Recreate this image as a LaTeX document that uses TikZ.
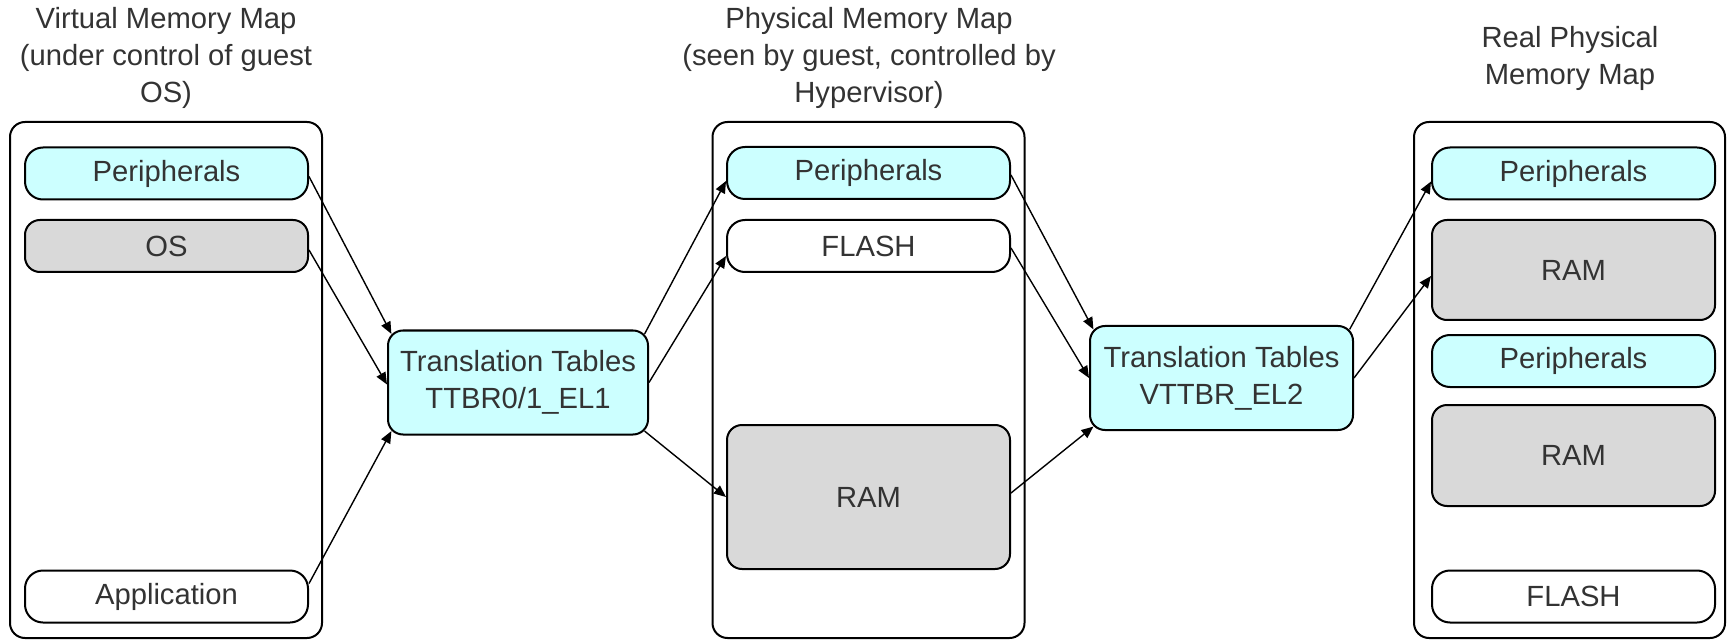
\documentclass[tikz,border=0pt]{standalone}
\usepackage{fontspec}
\setmainfont{Liberation Sans}
\usepackage{xcolor}
\usetikzlibrary{arrows.meta}

\definecolor{periphcyan}{HTML}{CCFFFF}
\definecolor{ramgray}{HTML}{D9D9D9}

\begin{document}
\begin{tikzpicture}[x=0.5pt, y=-0.5pt, line width=1pt,
    font=\fontsize{14.6}{18.5}\selectfont, text=black!80,
    memmap/.style={draw, rounded corners=7.5pt, minimum width=156pt, minimum height=258pt, inner sep=0pt},
    region/.style={draw, fill=white, rounded corners=9pt, minimum width=141.5pt, minimum height=26pt, inner sep=0pt},
    periph/.style={region, fill=periphcyan},
    ram/.style={region, fill=ramgray, rounded corners=7.5pt},
    xlat/.style={draw, fill=periphcyan, rounded corners=7.5pt, minimum width=130pt, minimum height=52pt, align=center, inner sep=0pt},
    title/.style={align=center},
    link/.style={line width=0.7pt, -{Triangle[length=6pt,width=5pt]}}]
  \useasboundingbox (0,0) rectangle (1732,641);
  % virtual memory map (guest OS)
  \node[title] (vtitle) at (166,58) {Virtual Memory Map\\(under control of guest\\OS)};
  \node[memmap] (vmap) at (166,380) {};
  \node[periph] (vperiph) at (166.5,173.5) {Peripherals};
  \node[ram] (vos) at (166.5,246) {OS};
  \node[region] (vapp) at (166.5,596.5) {Application};
  % stage 1 tables
  \node[xlat] (tt1) at (518,382.5) {Translation Tables\\TTBR0/1\_EL1};
  % physical memory map (seen by guest)
  \node[title] (ptitle) at (869,58) {Physical Memory Map\\(seen by guest, controlled by\\Hypervisor)};
  \node[memmap] (pmap) at (868.5,380) {};
  \node[periph] (pperiph) at (868.5,173) {Peripherals};
  \node[region] (pflash) at (868.5,246) {FLASH};
  \node[ram, minimum height=72pt] (pram) at (868.5,497) {RAM};
  % stage 2 tables
  \node[xlat, minimum width=131.5pt] (tt2) at (1221.5,378) {Translation Tables\\VTTBR\_EL2};
  % real physical memory map
  \node[title] (rtitle) at (1570,58) {Real Physical\\Memory Map};
  \node[memmap, minimum width=155.5pt] (rmap) at (1569.5,380) {};
  \node[periph] (rperiph1) at (1573.5,173.5) {Peripherals};
  \node[ram, minimum height=50pt] (rram1) at (1573.5,270) {RAM};
  \node[periph] (rperiph2) at (1573.5,361) {Peripherals};
  \node[ram, minimum height=50.5pt] (rram2) at (1573.5,455.5) {RAM};
  \node[region] (rflash) at (1573.5,596.5) {FLASH};
  % points on the rounded corners of the tables
  \foreach \t in {tt1, tt2} {
    \coordinate (\t nw) at ([shift={(2.2pt,-2.2pt)}]\t.north west);
    \coordinate (\t ne) at ([shift={(-2.2pt,-2.2pt)}]\t.north east);
    \coordinate (\t sw) at ([shift={(2.2pt,2.2pt)}]\t.south west);
    \coordinate (\t se) at ([shift={(-2.2pt,2.2pt)}]\t.south east);
  }
  % mappings
  \foreach \a/\r/\b/\s in {vperiph.east/-1.5/tt1nw/0, vos.east/-2/tt1.west/-1,
                           vapp.east/6.5/tt1sw/0,
                           tt1ne/0/pperiph.west/-4, tt1.east/0/pflash.west/-5,
                           tt1se/0/pram.west/0,
                           pperiph.east/-1/tt2nw/0, pflash.east/-1/tt2.west/0,
                           pram.east/2/tt2sw/0,
                           tt2ne/0/rperiph1.west/-4, tt2.east/0/rram1.west/-3}
    \draw[link] ([yshift=\r pt]\a) -- ([yshift=\s pt]\b);
\end{tikzpicture}
\end{document}
